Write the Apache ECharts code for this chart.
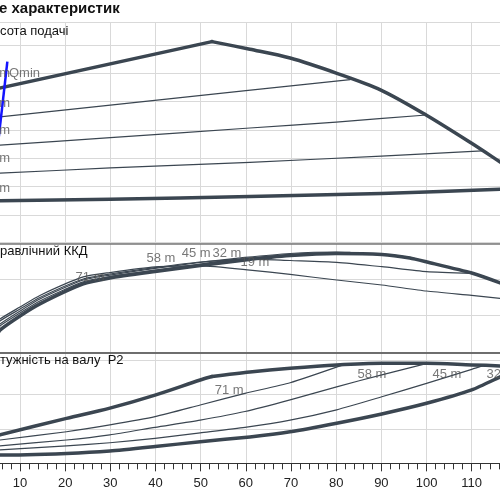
<!DOCTYPE html>
<html>
<head>
<meta charset="utf-8">
<script src="https://cdn.jsdelivr.net/npm/echarts@6/dist/echarts.min.js"></script>
<style>
  html, body { margin: 0; padding: 0; background: #fff; }
  #chart { width: 500px; height: 500px; }
</style>
</head>
<body>
<div id="chart"></div>
<script>
// Подача Q (вісь X)
// Висота подачі H
const headMaxRise = [[5, 54.6], [52.5, 71.2]];
const headMaxFall = [[52.5, 71.2], [60.9, 68.5], [69.8, 65.4], [80, 60.1], [89.9, 54.1], [99.9, 45.3], [109.9, 35.4], [116.3, 28.7], [120, 24.8]];
const head71 = [[5, 44.5], [30, 48.8], [60, 53.9], [83.1, 57.8]];
const head58 = [[5, 34.6], [30, 37.3], [60.9, 40.7], [80, 42.8], [100, 45.3]];
const head45 = [[5, 24.7], [30, 26.6], [60.9, 28.6], [90, 30.8], [112.3, 32.6]];
const headMin = [[5, 15.0], [30, 15.6], [60.9, 16.5], [90, 17.6], [116.3, 19.1], [120, 19.5]];
const qminLine = [[3.7, 15.2], [7.2, 64.1]];
const headLabels = ['71 m', '58 m', '45 m', '32 m', '19 m'];
const headLabelPos = [[7.8, 60.1], [7.8, 49.5], [7.8, 39.7], [7.8, 29.8], [7.8, 19.5]];

// Гідравлічний ККД
const effMax = [[5, 12.0], [5.57, 15.2], [10, 24.8], [14.4, 33.0], [24, 46.6], [29.9, 50.7], [39.9, 55.1], [49.9, 59.2], [59.8, 63.0], [69.8, 66.0], [80, 67.4], [90.1, 66.7], [96.3, 64.3], [100.1, 61.6], [110, 54.1], [116.3, 47.3], [120, 42.5]];
const eff71 = [[5, 16.0], [5.57, 19.3], [10, 28.2], [14.4, 36.4], [24, 49.3], [29.9, 52.7], [39.9, 57.2], [49.9, 61.3], [59.8, 64.7], [69.8, 67.4], [80, 68.4], [83.1, 68.2]];
const eff58 = [[5, 14.8], [5.57, 18.0], [10, 26.8], [14.4, 35.0], [24, 48.0], [29.9, 51.7], [39.9, 56.1], [49.9, 60.2], [59.8, 64.0], [69.8, 66.7], [80, 67.7], [90.1, 67.0], [96.3, 64.7], [100.1, 61.6]];
const eff45 = [[5, 18.2], [5.57, 21.4], [10, 29.5], [14.4, 37.4], [24, 50.0], [29.9, 53.4], [39.9, 57.8], [49.9, 61.6], [60.9, 63.6], [69.8, 62.6], [80.1, 61.4], [90.1, 58.4], [100, 55.0], [110, 53.8]];
const eff32 = [[5, 19.5], [5.57, 22.7], [10, 30.9], [14.4, 38.8], [24, 51.4], [29.9, 54.4], [39.9, 58.2], [49.9, 58.9], [60.9, 56.1], [69.8, 53.1], [80.1, 49.3], [90.1, 45.9], [100, 41.8], [110, 38.8], [116.3, 36.8], [120, 35.7]];
const effLabels = ['71 m', '58 m', '45 m', '32 m', '19 m'];
const effLabelPos = [[25.5, 51.4], [41.2, 64.3], [49.0, 67.7], [55.8, 67.7], [62.0, 61.6]];

// Потужність на валу P2
const powMaxRise = [[5, 0.80], [5.57, 0.83], [20.3, 1.31], [29.9, 1.61], [39.9, 1.99], [49.9, 2.43], [52.5, 2.53]];
const powMaxTop = [[52.5, 2.53], [60.9, 2.66], [69.8, 2.77], [80.1, 2.87], [90.1, 2.92], [100, 2.92], [110, 2.87], [116.3, 2.84], [120, 2.81]];
const pow71 = [[5, 0.67], [5.57, 0.68], [20.3, 0.92], [29.9, 1.12], [39.9, 1.36], [49.9, 1.70], [59.8, 2.04], [69.8, 2.35], [81.5, 2.87]];
const pow58 = [[5, 0.50], [5.57, 0.51], [20.3, 0.68], [29.9, 0.83], [39.9, 1.05], [49.9, 1.26], [59.8, 1.51], [69.8, 1.85], [80.1, 2.23], [90.1, 2.58], [99.7, 2.90]];
const pow45 = [[5, 0.38], [5.57, 0.39], [20.3, 0.51], [29.9, 0.60], [39.9, 0.73], [49.9, 0.89], [59.8, 1.05], [69.8, 1.26], [80.1, 1.56], [90.1, 1.94], [100, 2.33], [110, 2.74], [112.9, 2.87]];
const powMin = [[5, 0.24], [5.57, 0.24], [20.3, 0.29], [29.9, 0.36], [39.9, 0.49], [49.9, 0.63], [60.9, 0.77], [69.8, 0.92], [80.1, 1.17], [90.1, 1.44], [100, 1.75], [110, 2.14], [116.3, 2.52], [120, 2.75]];
const powLabels = ['71 m', '58 m', '45 m', '32 m'];
const powLabelPos = [[56.3, 2.14], [87.9, 2.58], [104.5, 2.58], [116.5, 2.58]];

const curveColor = '#3b4651';
const gridColor = '#d9d9d9';
const font = 'Liberation Sans, Arial, sans-serif';

let myChart = echarts.init(document.getElementById('chart'));

function xAxisCfg(gridIndex, opts) {
	return Object.assign({
		type: 'value',
		gridIndex: gridIndex,
		min: 0,
		max: 120,
		interval: 10,
		axisLine: { show: false },
		axisTick: { show: false },
		axisLabel: { show: false },
		splitLine: { show: true, lineStyle: { color: gridColor, width: 1 } }
	}, opts || {});
}

function yAxisCfg(gridIndex, max, interval) {
	return {
		type: 'value',
		gridIndex: gridIndex,
		min: 0,
		max: max,
		interval: interval,
		axisLine: { show: false },
		axisTick: { show: false },
		axisLabel: { show: false },
		splitLine: { show: true, lineStyle: { color: gridColor, width: 1 } }
	};
}

function curve(g, data, thick, smooth) {
	return {
		type: 'line',
		xAxisIndex: g,
		yAxisIndex: g,
		data: data,
		showSymbol: false,
		smooth: smooth === undefined ? 0.2 : smooth,
		silent: true,
		lineStyle: { color: curveColor, width: thick ? 3.5 : 1.2, cap: 'round', join: 'round' },
		z: thick ? 3 : 2
	};
}

function labels(g, pos, texts, align) {
	return {
		type: 'scatter',
		xAxisIndex: g,
		yAxisIndex: g,
		symbolSize: 1,
		silent: true,
		itemStyle: { color: 'rgba(0,0,0,0)' },
		data: pos.map((p, i) => ({ value: p, name: texts[i] })),
		label: {
			show: true,
			position: 'inside',
			align: align,
			verticalAlign: 'middle',
			formatter: '{b}',
			color: '#555',
			fontSize: 13,
			fontFamily: font
		},
		z: 6
	};
}

const borderLine = { show: true, lineStyle: { color: '#666', width: 1.5 } };
const gridBox = { left: -25.17, right: -16.87, outerBoundsMode: 'none', containLabel: false };

let option = {
	animation: false,
	backgroundColor: '#fff',
	title: [
		{ text: 'е характеристик', left: -1, top: 1, padding: 0, textStyle: { fontSize: 15, fontWeight: 'bold', color: '#111', fontFamily: font } },
		{ text: 'сота подачі', left: 0, top: 25, padding: 0, textStyle: { fontSize: 13, fontWeight: 'normal', color: '#111', fontFamily: font } },
		{ text: 'равлічний ККД', left: 0, top: 245, padding: 0, textStyle: { fontSize: 13, fontWeight: 'normal', color: '#111', fontFamily: font } },
		{ text: 'тужність на валу  P2', left: 0, top: 354, padding: 0, textStyle: { fontSize: 13, fontWeight: 'normal', color: '#111', fontFamily: font } }
	],
	grid: [
		Object.assign({ top: 22, height: 221.33 }, gridBox),
		Object.assign({ top: 242.33, height: 110 }, gridBox),
		Object.assign({ top: 352.33, height: 111 }, gridBox)
	],
	xAxis: [
		xAxisCfg(0, { position: 'top', axisLine: { show: true, lineStyle: { color: '#777', width: 1.5 } } }),
		xAxisCfg(1, { position: 'top', axisLine: borderLine }),
		xAxisCfg(2, {
			position: 'bottom',
			axisLine: { show: true, lineStyle: { color: '#333', width: 1 } },
			axisTick: { show: true, length: 8, lineStyle: { color: '#333' } },
			minorTick: { show: true, splitNumber: 5, length: 6, lineStyle: { color: '#333' } },
			axisLabel: { show: true, margin: 14, fontSize: 13, color: '#222', fontFamily: font }
		}),
		xAxisCfg(2, { position: 'top', axisLine: borderLine, splitLine: { show: false } })
	],
	yAxis: [
		yAxisCfg(0, 78.12, 10),
		yAxisCfg(1, 75, 25),
		yAxisCfg(2, 3.236, 1)
	],
	series: [
		curve(0, head71), curve(0, head58), curve(0, head45),
		curve(0, headMaxRise, true, false), curve(0, headMaxFall, true, 0.3), curve(0, headMin, true),
		{
			type: 'line', xAxisIndex: 0, yAxisIndex: 0, data: qminLine, showSymbol: false, silent: true,
			lineStyle: { color: '#1414ff', width: 2.5 }, z: 4
		},
		labels(0, headLabelPos, headLabels, 'right'),
		labels(0, [[7.56, 60.1]], ['Qmin'], 'left'),

		curve(1, eff71), curve(1, eff58), curve(1, eff45), curve(1, eff32),
		curve(1, effMax, true),
		labels(1, effLabelPos, effLabels, 'center'),

		curve(2, pow71), curve(2, pow58), curve(2, pow45),
		curve(2, powMaxRise, true, 0.3), curve(2, powMaxTop, true, 0.3), curve(2, powMin, true),
		labels(2, powLabelPos, powLabels, 'center')
	]
};

myChart.setOption(option);
</script>
</body>
</html>
